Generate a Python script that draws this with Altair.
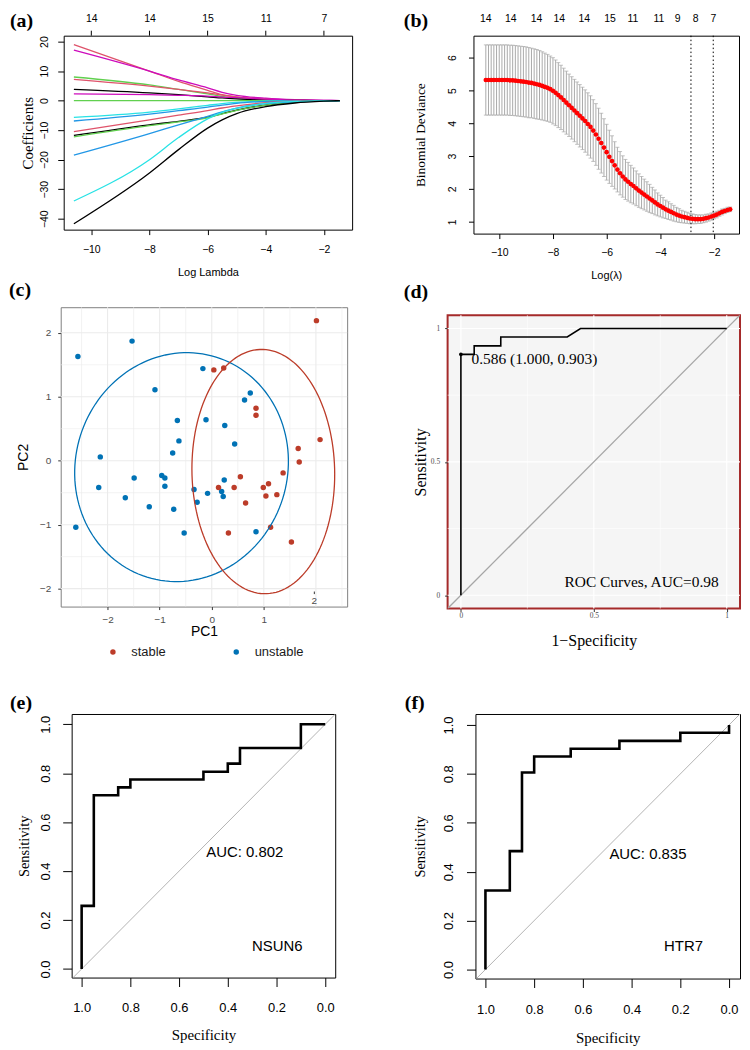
import altair as alt
import numpy as np
import pandas as pd

SANS = "Liberation Sans"
SERIF = "Liberation Serif"

# ======================= DATA =======================
# ---- (a) LASSO coefficient paths ----
a_knots = [-10.6, -8.0, -7.0, -6.0, -5.5, -5.0, -4.0, -3.0, -2.0, -1.45]
a_colors = ["#DF536B", "#CD0BBC", "#61D04F", "#DF536B", "#000000", "#CD0BBC",
            "#61D04F", "#28E2E5", "#2297E6", "#DF536B", "#000000", "#61D04F",
            "#2297E6", "#28E2E5", "#000000"]
a_paths = [
    [19.0, 10.0, 6.5, 3.5, 2.0, 1.2, 0.4, 0.1, 0.0, 0.0],
    [17.1, 10.0, 7.0, 4.3, 2.8, 1.8, 0.8, 0.3, 0.1, 0.0],
    [8.0, 5.3, 3.8, 2.3, 1.4, 0.8, 0.2, 0.0, 0.0, 0.0],
    [7.2, 4.9, 3.8, 2.6, 1.9, 1.3, 0.5, 0.2, 0.0, 0.0],
    [3.8, 2.6, 2.0, 1.3, 0.9, 0.6, 0.2, 0.1, 0.0, 0.0],
    [2.3, 2.0, 1.8, 1.5, 1.2, 1.0, 0.5, 0.2, 0.1, 0.0],
    [0.0, 0.0, 0.0, 0.0, 0.0, 0.0, 0.0, 0.0, 0.0, 0.0],
    [-5.7, -3.9, -2.8, -1.6, -1.0, -0.6, -0.2, -0.1, 0.0, 0.0],
    [-6.9, -4.6, -3.4, -2.2, -1.5, -0.9, -0.3, -0.1, 0.0, 0.0],
    [-10.5, -6.5, -4.9, -3.4, -2.5, -1.8, -0.7, -0.2, 0.0, 0.0],
    [-11.8, -8.2, -7.0, -5.6, -4.4, -3.2, -1.5, -0.5, -0.1, 0.0],
    [-12.3, -8.5, -7.2, -5.8, -4.5, -3.3, -1.5, -0.5, -0.1, 0.0],
    [-18.5, -11.2, -8.2, -5.3, -3.8, -2.5, -1.0, -0.4, -0.1, 0.0],
    [-34.0, -20.0, -12.5, -6.2, -4.0, -2.6, -0.9, -0.3, -0.1, 0.0],
    [-41.7, -24.5, -16.6, -9.3, -6.5, -4.4, -2.0, -0.8, -0.2, 0.0],
]
a_top_pos = [-10, -8, -6, -4, -2]
a_top_lab = ["14", "14", "15", "11", "7"]

# ---- (b) cross-validation binomial deviance ----
b_loglam = [-10.5, -10.4, -10.3, -10.2, -10.1, -10.0, -9.9, -9.8, -9.7, -9.6,
            -9.5, -9.4, -9.3, -9.2, -9.1, -9.0, -8.9, -8.8, -8.7, -8.6,
            -8.5, -8.4, -8.3, -8.2, -8.1, -8.0, -7.9, -7.8, -7.7, -7.6,
            -7.5, -7.4, -7.3, -7.2, -7.1, -7.0, -6.9, -6.8, -6.7, -6.6,
            -6.5, -6.4, -6.3, -6.2, -6.1, -6.0, -5.9, -5.8, -5.7, -5.6,
            -5.5, -5.4, -5.3, -5.2, -5.1, -5.0, -4.9, -4.8, -4.7, -4.6,
            -4.5, -4.4, -4.3, -4.2, -4.1, -4.0, -3.9, -3.8, -3.7, -3.6,
            -3.5, -3.4, -3.3, -3.2, -3.1, -3.0, -2.9, -2.8, -2.7, -2.6,
            -2.5, -2.4, -2.3, -2.2, -2.1, -2.0, -1.9, -1.8, -1.7, -1.6,
            -1.5, -1.4]
b_mean = [5.32, 5.32, 5.32, 5.32, 5.32, 5.32, 5.32, 5.32, 5.32, 5.31,
          5.31, 5.30, 5.29, 5.28, 5.27, 5.26, 5.24, 5.23, 5.21, 5.19,
          5.17, 5.14, 5.11, 5.08, 5.04, 4.99, 4.93, 4.86, 4.79, 4.71,
          4.63, 4.55, 4.47, 4.39, 4.31, 4.23, 4.15, 4.07, 3.98, 3.89,
          3.78, 3.66, 3.53, 3.40, 3.26, 3.12, 2.98, 2.85, 2.72, 2.59,
          2.48, 2.38, 2.29, 2.22, 2.15, 2.09, 2.02, 1.95, 1.89, 1.83,
          1.77, 1.71, 1.65, 1.59, 1.53, 1.48, 1.43, 1.38, 1.34, 1.30,
          1.26, 1.22, 1.19, 1.16, 1.14, 1.12, 1.10, 1.09, 1.08, 1.08,
          1.08, 1.09, 1.11, 1.13, 1.16, 1.19, 1.22, 1.26, 1.30, 1.33,
          1.36, 1.38]
b_sd = [1.07, 1.07, 1.07, 1.07, 1.07, 1.07, 1.07, 1.07, 1.07, 1.07,
        1.07, 1.07, 1.07, 1.07, 1.07, 1.07, 1.07, 1.06, 1.06, 1.06,
        1.05, 1.04, 1.03, 1.02, 1.01, 1.01, 1.00, 0.99, 0.98, 0.97,
        0.96, 0.95, 0.95, 0.95, 0.95, 0.95, 0.95, 0.95, 0.95, 0.95,
        0.94, 0.94, 0.93, 0.91, 0.88, 0.85, 0.81, 0.77, 0.72, 0.68,
        0.66, 0.63, 0.61, 0.59, 0.57, 0.55, 0.53, 0.51, 0.49, 0.47,
        0.45, 0.43, 0.40, 0.38, 0.35, 0.33, 0.31, 0.28, 0.27, 0.25,
        0.24, 0.22, 0.21, 0.19, 0.18, 0.17, 0.16, 0.15, 0.14, 0.13,
        0.13, 0.12, 0.12, 0.11, 0.11, 0.10, 0.10, 0.09, 0.09, 0.08,
        0.08, 0.07]
b_vlines = [-2.86, -2.03]
b_top_pos = [-10.52, -9.59, -8.63, -7.78, -6.85, -5.89, -5.04, -4.07, -3.37, -2.70, -2.04]
b_top_lab = ["14", "14", "14", "14", "14", "15", "11", "11", "9", "8", "7"]

# ---- (c) PCA ----
c_pc1 = [-2.57, -1.53, -1.09, -0.17, 0.63, 0.74, -0.66, -0.11, 0.25, -0.63,
         0.44, -0.75, -2.14, -0.96, -0.90, -1.49, -2.17, -0.90, -1.66, -1.20,
         -0.73, -0.34, -0.28, -0.08, 0.24, 0.19, 0.22, -2.61, -0.53, 0.85,
         2.01, 0.04, 0.23, 0.85, 0.85, 2.08, 1.66, 1.68, 1.37, 0.55,
         0.13, 0.43, 0.99, 1.09, 1.04, 1.25, 0.65, 0.32, 1.13, 1.53]
c_pc2 = [1.63, 1.87, 1.11, 1.44, 0.95, 1.06, 0.63, 0.64, 0.55, 0.31,
         0.26, 0.12, 0.06, -0.23, -0.27, -0.27, -0.42, -0.40, -0.58, -0.72,
         -0.76, -0.45, -0.65, -0.51, -0.30, -0.48, -0.56, -1.04, -1.13, -1.11,
         2.19, 1.42, 1.45, 0.82, 0.71, 0.33, 0.19, -0.02, -0.19, -0.25,
         -0.42, -0.42, -0.42, -0.36, -0.55, -0.53, -0.66, -1.13, -1.04, -1.27]
c_group = ["unstable"] * 30 + ["stable"] * 20
c_groups = ["stable", "unstable"]
c_colors = ["#BC3C29", "#0072B5"]
c_ell_group = ["unstable", "stable"]
c_ell_cx = [-0.58, 0.99]
c_ell_cy = [-0.10, -0.17]
c_ell_rx = [2.06, 1.37]
c_ell_ry = [1.78, 1.91]
c_ell_angle = [10.0, 2.0]
c_grid_major = [-2, -1, 0, 1, 2]
c_grid_x_minor = [-2.5, -1.5, -0.5, 0.5, 1.5, 2.5]
c_grid_y_minor = [-1.5, -0.5, 0.5, 1.5]
c_stray_x = [1.97]
c_stray_y = [-2.19]
c_stray_t = ["2"]

# ---- (d) combined ROC ----
d_fpr = [0.0, 0.0, 0.05, 0.05, 0.15, 0.15, 0.40, 0.45, 1.0]
d_tpr = [0.0, 0.903, 0.903, 0.935, 0.935, 0.968, 0.968, 1.0, 1.0]
d_diag = [-0.05, 1.05]
d_grid_major = [0.0, 0.5, 1.0]
d_grid_minor = [0.25, 0.75]
d_text_x = [0.04, 0.68]
d_text_y = [0.885, 0.05]
d_text = ["0.586 (1.000, 0.903)", "ROC Curves, AUC=0.98"]

# ---- (e) NSUN6 ROC ----
e_spec = [1.0, 1.0, 0.95, 0.95, 0.85, 0.85, 0.80, 0.80, 0.50, 0.50, 0.40, 0.40, 0.35, 0.35, 0.10, 0.10, 0.0]
e_sens = [0.0, 0.258, 0.258, 0.710, 0.710, 0.742, 0.742, 0.774, 0.774, 0.806, 0.806, 0.839, 0.839, 0.903, 0.903, 1.0, 1.0]
e_text_spec = [0.33, 0.197]
e_text_sens = [0.476, 0.095]
e_text = ["AUC: 0.802", "NSUN6"]

# ---- (f) HTR7 ROC ----
f_spec = [1.0, 1.0, 0.90, 0.90, 0.85, 0.85, 0.80, 0.80, 0.65, 0.65, 0.45, 0.45, 0.20, 0.20, 0.0, 0.0]
f_sens = [0.0, 0.323, 0.323, 0.484, 0.484, 0.806, 0.806, 0.871, 0.871, 0.903, 0.903, 0.935, 0.935, 0.968, 0.968, 1.0]
f_text_spec = [0.333, 0.187]
f_text_sens = [0.474, 0.095]
f_text = ["AUC: 0.835", "HTR7"]

roc_diag_spec = [1.05, -0.05]
roc_diag_sens = [-0.05, 1.05]
roc_ticks = [0.0, 0.2, 0.4, 0.6, 0.8, 1.0]


# ======================= HELPERS =======================
def r_axis(**kw):
    base = dict(domain=False, grid=False, ticks=True, tickColor="black", tickWidth=1,
                labelFont=SANS, labelColor="black", labelFlush=False, labelOverlap=False,
                titleFont=SANS, titleColor="black", titleFontWeight="normal",
                titleAlign="center", titleBaseline="middle")
    base.update(kw)
    return alt.Axis(**base)


def lab_expr(pos, lab):
    return ("[" + ",".join("'%s'" % l for l in lab) + "][indexof(["
            + ",".join(repr(float(p)) for p in pos) + "], datum.value)]")


def letter(txt, dx, dy):
    return alt.TitleParams(text=txt, anchor="start", frame="group", font=SERIF,
                           fontSize=20, fontWeight="bold", color="black",
                           dx=dx, dy=dy, offset=4)


def spacer():
    return alt.Chart(pd.DataFrame({"v": [0]})).mark_point(opacity=0, size=0).encode(
        x=alt.value(0), y=alt.value(0)).properties(width=1, height=1)


# ======================= PANEL (a) =======================
rows = []
for k, (col, vals) in enumerate(zip(a_colors, a_paths)):
    for x, v in zip(a_knots, vals):
        rows.append({"path": k, "col": col, "loglam": x, "coef": v})
df_a = pd.DataFrame(rows)
xs_a = alt.Scale(domain=[-10.95, -1.03], nice=False, zero=False)
ys_a = alt.Scale(domain=[-43.7, 22.0], nice=False, zero=False)
A_W, A_H = 290, 195

a_lines = alt.Chart(df_a).mark_line(strokeWidth=1.3, interpolate="monotone", clip=True).encode(
    x=alt.X("loglam:Q", scale=xs_a,
            axis=r_axis(orient="bottom", values=[-10, -8, -6, -4, -2], tickSize=5,
                        labelFontSize=10.5, labelPadding=15, labelBaseline="middle",
                        title="Log Lambda", titleFontSize=11, titleX=A_W / 2, titleY=43)),
    y=alt.Y("coef:Q", scale=ys_a,
            axis=r_axis(values=[-40, -30, -20, -10, 0, 10, 20], tickSize=6,
                        labelFontSize=10.5, labelAngle=270, labelAlign="center",
                        labelBaseline="middle", labelPadding=13,
                        title="Coefficients", titleFont=SERIF, titleFontSize=15,
                        titleAngle=270, titleX=-36, titleY=A_H / 2)),
    color=alt.Color("col:N", scale=None),
    detail="path:N",
)
df_a_top = pd.DataFrame({"pos": a_top_pos, "lab": a_top_lab})
a_top = alt.Chart(df_a_top).mark_point(opacity=0, size=0).encode(
    x=alt.X("pos:Q", scale=xs_a,
            axis=r_axis(orient="top", values=a_top_pos, labelExpr=lab_expr(a_top_pos, a_top_lab),
                        ticks=False, tickSize=0, labelFontSize=10.5, labelPadding=17,
                        labelBaseline="middle", title=None)),
)
a_top_ticks = alt.Chart(df_a_top).mark_rule(color="black", strokeWidth=1).encode(
    x=alt.X("pos:Q", scale=xs_a, axis=None),
    y=alt.value(-5), y2=alt.value(0))
panel_a = alt.layer(a_lines, a_top, a_top_ticks).resolve_axis(
    x="independent", y="independent").properties(
    width=A_W, height=A_H, title=letter("(a)", -54, 21.5),
    view=alt.ViewBackground(stroke="black", strokeWidth=1))

# ======================= PANEL (b) =======================
df_b = pd.DataFrame({"loglam": b_loglam, "cvm": b_mean, "cvsd": b_sd})
df_b["lo"] = df_b["cvm"] - df_b["cvsd"]
df_b["hi"] = df_b["cvm"] + df_b["cvsd"]
xs_b = alt.Scale(domain=[-10.96, -1.07], nice=False, zero=False)
ys_b = alt.Scale(domain=[0.64, 6.67], nice=False, zero=False)
B_W, B_H = 267, 199
GREY = "#A9A9A9"

b_bars = alt.Chart(df_b).mark_rule(color=GREY, strokeWidth=1).encode(
    x=alt.X("loglam:Q", scale=xs_b, axis=None),
    y=alt.Y("lo:Q", scale=ys_b,
            axis=r_axis(values=[1, 2, 3, 4, 5, 6], tickSize=5, labelFontSize=10.5,
                        labelAngle=270, labelAlign="center", labelBaseline="middle",
                        labelPadding=16, title="Binomial Deviance", titleFont=SERIF,
                        titleFontSize=13.5, titleAngle=270, titleX=-53, titleY=B_H / 2)),
    y2="hi:Q",
)
b_cap_lo = alt.Chart(df_b).mark_tick(orient="horizontal", size=4, thickness=1, color=GREY).encode(
    x=alt.X("loglam:Q", scale=xs_b, axis=None),
    y=alt.Y("lo:Q", scale=ys_b, axis=None),
)
b_cap_hi = alt.Chart(df_b).mark_tick(orient="horizontal", size=4, thickness=1, color=GREY).encode(
    x=alt.X("loglam:Q", scale=xs_b, axis=None),
    y=alt.Y("hi:Q", scale=ys_b, axis=None),
)
b_pts = alt.Chart(df_b).mark_circle(size=22, color="#FF0000", opacity=1).encode(
    x=alt.X("loglam:Q", scale=xs_b,
            axis=r_axis(orient="bottom", values=[-10, -8, -6, -4, -2], tickSize=5,
                        labelFontSize=10.5, labelPadding=14, labelBaseline="middle",
                        title="Log(λ)", titleFontSize=11, titleX=B_W / 2, titleY=42)),
    y=alt.Y("cvm:Q", scale=ys_b, axis=None),
)
b_vl = alt.Chart(pd.DataFrame({"v": b_vlines})).mark_rule(
    color="black", strokeWidth=1, strokeDash=[1.5, 2.5]).encode(
    x=alt.X("v:Q", scale=xs_b, axis=None))
b_top = alt.Chart(pd.DataFrame({"pos": b_top_pos, "lab": b_top_lab})).mark_point(opacity=0, size=0).encode(
    x=alt.X("pos:Q", scale=xs_b,
            axis=r_axis(orient="top", values=b_top_pos, labelExpr=lab_expr(b_top_pos, b_top_lab),
                        ticks=False, tickSize=0, labelFontSize=10.5, labelPadding=17,
                        labelBaseline="middle", title=None)),
)
panel_b = alt.layer(b_bars, b_cap_lo, b_cap_hi, b_vl, b_pts, b_top).resolve_axis(
    x="independent", y="independent").properties(
    width=B_W, height=B_H, title=letter("(b)", -70, 21.5),
    view=alt.ViewBackground(stroke="black", strokeWidth=1))

# ======================= PANEL (c) =======================
df_c = pd.DataFrame({"pc1": c_pc1, "pc2": c_pc2, "group": c_group})
xs_c = alt.Scale(domain=[-2.9, 2.6], nice=False, zero=False)
ys_c = alt.Scale(domain=[-2.28, 2.40], nice=False, zero=False)
C_W, C_H = 288, 301
col_map = dict(zip(c_groups, c_colors))

ell_rows = []
t = np.linspace(0, 2 * np.pi, 145)
for g, cx, cy, rx, ry, ang in zip(c_ell_group, c_ell_cx, c_ell_cy, c_ell_rx, c_ell_ry, c_ell_angle):
    th = np.deg2rad(ang)
    ex = cx + rx * np.cos(t) * np.cos(th) - ry * np.sin(t) * np.sin(th)
    ey = cy + rx * np.cos(t) * np.sin(th) + ry * np.sin(t) * np.cos(th)
    for i, (px, py) in enumerate(zip(ex, ey)):
        ell_rows.append({"group": g, "col": col_map[g], "i": i, "ex": px, "ey": py})
df_ell = pd.DataFrame(ell_rows)


def gg_vrule(vals, width):
    return alt.Chart(pd.DataFrame({"v": vals})).mark_rule(color="#EBEBEB", strokeWidth=width).encode(
        x=alt.X("v:Q", scale=xs_c, axis=None))


def gg_hrule(vals, width):
    return alt.Chart(pd.DataFrame({"v": vals})).mark_rule(color="#EBEBEB", strokeWidth=width).encode(
        y=alt.Y("v:Q", scale=ys_c, axis=None))


gg_ax = dict(domain=False, grid=False, tickSize=3, tickColor="#333333", tickWidth=1,
             labelFont=SANS, labelFontSize=10, labelColor="#4D4D4D",
             labelFlush=False, labelOverlap=False, titleFont=SANS, titleFontSize=14,
             titleFontWeight="normal", titleColor="black", titleAlign="center",
             titleBaseline="middle")

c_pts = alt.Chart(df_c).mark_circle(size=30, opacity=1).encode(
    x=alt.X("pc1:Q", scale=xs_c,
            axis=alt.Axis(values=[-2, -1, 0, 1], labelPadding=10, labelBaseline="middle",
                          title="PC1", titleX=C_W / 2, titleY=25.5, **gg_ax)),
    y=alt.Y("pc2:Q", scale=ys_c,
            axis=alt.Axis(values=[-2, -1, 0, 1, 2], labelPadding=7,
                          title="PC2", titleAngle=270, titleX=-37, titleY=C_H / 2, **gg_ax)),
    color=alt.Color("group:N", scale=alt.Scale(domain=c_groups, range=c_colors),
                    legend=alt.Legend(title=None, orient="none", legendX=46, legendY=340,
                                      direction="horizontal", symbolType="circle",
                                      symbolSize=30, symbolStrokeWidth=0, labelFont=SANS,
                                      labelFontSize=13, labelColor="#1A1A1A",
                                      labelOffset=12, columnPadding=64, padding=0)),
)
c_ell = alt.Chart(df_ell).mark_line(strokeWidth=1.3, clip=True).encode(
    x=alt.X("ex:Q", scale=xs_c, axis=None),
    y=alt.Y("ey:Q", scale=ys_c, axis=None),
    order="i:Q",
    detail="group:N",
    color=alt.Color("col:N", scale=None),
)
df_stray = pd.DataFrame({"x": c_stray_x, "y": c_stray_y, "t": c_stray_t})
c_stray = alt.Chart(df_stray).mark_text(font=SANS, fontSize=10, color="#4D4D4D").encode(
    x=alt.X("x:Q", scale=xs_c, axis=None), y=alt.Y("y:Q", scale=ys_c, axis=None), text="t:N")
c_stray_tick = alt.Chart(df_stray).transform_calculate(
    ya="datum.y + 0.105", yb="datum.y + 0.145").mark_rule(color="#333333", strokeWidth=1).encode(
    x=alt.X("x:Q", scale=xs_c, axis=None),
    y=alt.Y("ya:Q", scale=ys_c, axis=None),
    y2="yb:Q",
)
panel_c = alt.layer(gg_vrule(c_grid_x_minor, 0.6), gg_hrule(c_grid_y_minor, 0.6),
                    gg_vrule(c_grid_major, 1.1), gg_hrule(c_grid_major, 1.1),
                    c_pts, c_ell, c_stray, c_stray_tick).resolve_axis(
    x="independent", y="independent").properties(
    width=C_W, height=C_H, title=letter("(c)", -52, -3),
    view=alt.ViewBackground(stroke="#7F7F7F", strokeWidth=1))

# ======================= PANEL (d) =======================
D_W, D_H = 294, 295
xs_d = alt.Scale(domain=[-0.05, 1.05], nice=False, zero=False)
ys_d = alt.Scale(domain=[-0.05, 1.05], nice=False, zero=False)
df_d = pd.DataFrame({"i": list(range(len(d_fpr))), "fpr": d_fpr, "tpr": d_tpr})

d_ax = dict(domain=False, grid=False, tickSize=3, tickColor="#333333", tickWidth=1,
            labelFont=SERIF, labelFontSize=7.5, labelColor="#4D4D4D", format="~g",
            labelFlush=False, labelOverlap=False, titleFont=SERIF, titleFontSize=16,
            titleFontWeight="normal", titleColor="black", titleAlign="center",
            titleBaseline="middle")


def d_vrule(vals, width):
    return alt.Chart(pd.DataFrame({"v": vals})).mark_rule(color="white", strokeWidth=width).encode(
        x=alt.X("v:Q", scale=xs_d, axis=None))


def d_hrule(vals, width):
    return alt.Chart(pd.DataFrame({"v": vals})).mark_rule(color="white", strokeWidth=width).encode(
        y=alt.Y("v:Q", scale=ys_d, axis=None))


d_diag_l = alt.Chart(pd.DataFrame({"a": d_diag, "b": d_diag})).mark_line(
    color="#A6A6A6", strokeWidth=1.3, clip=True).encode(
    x=alt.X("a:Q", scale=xs_d, axis=None), y=alt.Y("b:Q", scale=ys_d, axis=None))
d_roc = alt.Chart(df_d).mark_line(color="black", strokeWidth=1.6).encode(
    x=alt.X("fpr:Q", scale=xs_d,
            axis=alt.Axis(values=[0, 0.5, 1], labelPadding=4, labelBaseline="middle",
                          title="1\u2212Specificity", titleX=D_W / 2, titleY=32, **d_ax)),
    y=alt.Y("tpr:Q", scale=ys_d,
            axis=alt.Axis(values=[0, 0.5, 1], labelPadding=5,
                          title="Sensitivity", titleAngle=270, titleX=-27, titleY=D_H / 2, **d_ax)),
    order="i:Q",
)
d_pt = alt.Chart(df_d.iloc[[1]]).mark_circle(size=14, color="black", opacity=1).encode(
    x=alt.X("fpr:Q", scale=xs_d, axis=None), y=alt.Y("tpr:Q", scale=ys_d, axis=None))
df_dt = pd.DataFrame({"x": d_text_x, "y": d_text_y, "t": d_text})
d_txt1 = alt.Chart(df_dt.iloc[[0]]).mark_text(font=SERIF, fontSize=15.5, color="black",
                                              align="left", baseline="middle").encode(
    x=alt.X("x:Q", scale=xs_d, axis=None), y=alt.Y("y:Q", scale=ys_d, axis=None), text="t:N")
d_txt2 = alt.Chart(df_dt.iloc[[1]]).mark_text(font=SERIF, fontSize=15.5, color="black",
                                              align="center", baseline="middle").encode(
    x=alt.X("x:Q", scale=xs_d, axis=None), y=alt.Y("y:Q", scale=ys_d, axis=None), text="t:N")
panel_d = alt.layer(d_vrule(d_grid_minor, 0.6), d_hrule(d_grid_minor, 0.6),
                    d_vrule(d_grid_major, 1.2), d_hrule(d_grid_major, 1.2),
                    d_diag_l, d_roc, d_pt, d_txt1, d_txt2).resolve_axis(
    x="independent", y="independent").properties(
    width=D_W, height=D_H, title=letter("(d)", -44, -9),
    view=alt.ViewBackground(fill="#F5F5F5", stroke="#A52A2A", strokeWidth=2))


# ======================= PANELS (e), (f) =======================
def roc_panel(spec, sens, tx, ty, tt, xdom, ydom, w, h, ltxt, ldx, ldy,
              xpad, ypad, xty, ytx):
    xs = alt.Scale(domain=xdom, reverse=True, nice=False, zero=False)
    ys = alt.Scale(domain=ydom, nice=False, zero=False)
    diag = alt.Chart(pd.DataFrame({"s": roc_diag_spec, "e": roc_diag_sens})).mark_line(
        color="#B3B3B3", strokeWidth=1, clip=True).encode(
        x=alt.X("s:Q", scale=xs, axis=None), y=alt.Y("e:Q", scale=ys, axis=None))
    df = pd.DataFrame({"i": list(range(len(spec))), "spec": spec, "sens": sens})
    line = alt.Chart(df).mark_line(color="black", strokeWidth=2.6, clip=True).encode(
        x=alt.X("spec:Q", scale=xs,
                axis=r_axis(values=roc_ticks, format=".1f", tickSize=9, labelFontSize=13,
                            labelPadding=xpad, labelBaseline="middle",
                            title="Specificity", titleFont=SERIF, titleFontSize=15,
                            titleX=w / 2, titleY=xty)),
        y=alt.Y("sens:Q", scale=ys,
                axis=r_axis(values=roc_ticks, format=".1f", tickSize=9, labelFontSize=13,
                            labelAngle=270, labelAlign="center", labelBaseline="middle",
                            labelPadding=ypad, title="Sensitivity", titleFont=SERIF,
                            titleFontSize=14.5, titleAngle=270, titleX=ytx, titleY=h / 2)),
        order="i:Q",
    )
    txt = alt.Chart(pd.DataFrame({"x": tx, "y": ty, "t": tt})).mark_text(
        font=SANS, fontSize=15, color="black", align="center", baseline="middle").encode(
        x=alt.X("x:Q", scale=xs, axis=None), y=alt.Y("y:Q", scale=ys, axis=None), text="t:N")
    return alt.layer(diag, line, txt).resolve_axis(x="independent", y="independent").properties(
        width=w, height=h, title=letter(ltxt, ldx, ldy),
        view=alt.ViewBackground(stroke="black", strokeWidth=1))


panel_e = roc_panel(e_spec, e_sens, e_text_spec, e_text_sens, e_text,
                    [-0.041, 1.041], [-0.035, 1.042], 265, 265, "(e)", -62, 3,
                    21.5, 17, 57, -47)
panel_f = roc_panel(f_spec, f_sens, f_text_spec, f_text_sens, f_text,
                    [-0.045, 1.041], [-0.037, 1.045], 266, 266, "(f)", -71, 3,
                    22, 18, 59, -55)


# ======================= LAYOUT =======================
def hc(*charts, spacing):
    return alt.hconcat(*charts, spacing=spacing).resolve_scale(
        color="independent").resolve_legend(color="independent")


def vc(*charts, spacing):
    return alt.vconcat(*charts, spacing=spacing).resolve_scale(
        color="independent").resolve_legend(color="independent")


row1 = hc(hc(spacer(), panel_a, spacing=-53), panel_b, spacing=50)
row2 = hc(panel_c, vc(spacer(), panel_d, spacing=-28), spacing=54)
row3 = hc(hc(spacer(), panel_e, spacing=-53), panel_f, spacing=68)

chart = vc(vc(row1, row2, spacing=-3), row3, spacing=32).properties(
    padding=0, background="white").configure_view(stroke=None)

chart.save("out.html", embed_options={"renderer": "svg", "actions": False})
